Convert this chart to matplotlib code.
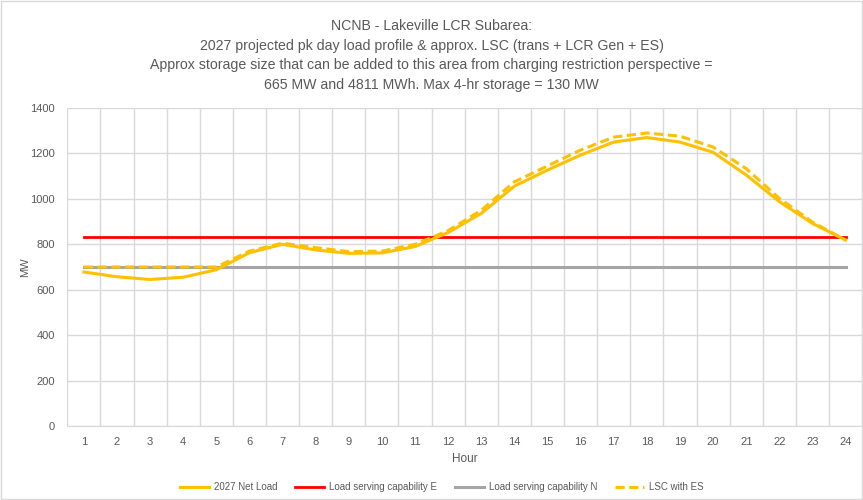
import matplotlib
matplotlib.use("Agg")
import matplotlib.pyplot as plt
from matplotlib.patches import Rectangle

plt.rcParams['font.family'] = ['Liberation Sans Narrow', 'Liberation Sans', 'DejaVu Sans']

hours = list(range(1, 25))
net_load = [678, 657, 645, 655, 688, 763, 800, 775, 760, 762, 790, 852,
            936, 1056, 1127, 1193, 1250, 1270, 1250, 1205, 1105, 988, 892, 819]
lsc_e = [834] * 24
lsc_n = [700] * 24
lsc_es = [700, 700, 700, 700, 700, 770, 805, 785, 768, 770, 800, 860,
          950, 1075, 1145, 1215, 1272, 1290, 1276, 1228, 1133, 1002, 898, 818]

title = ("NCNB - Lakeville LCR Subarea:\n"
         "2027 projected pk day load profile & approx. LSC (trans + LCR Gen + ES)\n"
         "Approx storage size that can be added to this area from charging restriction perspective =\n"
         "665 MW and 4811 MWh. Max 4-hr storage = 130 MW")

fig = plt.figure(figsize=(8.63, 5.0), dpi=100)
ax = fig.add_axes([0.078, 0.148, 0.921, 0.636])

txt = '#595959'
grid = '#d9d9d9'
ax.plot(hours, net_load, color='#FFC000', lw=2.2, label='2027 Net Load', zorder=4)
ax.plot(hours, lsc_e, color='#FF0000', lw=2.0, label='Load serving capability E', zorder=3)
ax.plot(hours, lsc_n, color='#A5A5A5', lw=2.2, label='Load serving capability N', zorder=2)
ax.plot(hours, lsc_es, color='#FFC000', lw=2.2, ls=(0, (3, 1.5)), label='LSC with ES', zorder=5)

ax.set_xlim(0.5, 24.5)
ax.set_ylim(0, 1400)
ax.set_yticks(range(0, 1401, 200))
ax.set_xticks(hours)
ax.set_xticks([h + 0.5 for h in range(0, 25)], minor=True)
ax.grid(False)
ax.yaxis.grid(True, color=grid, lw=1)
ax.xaxis.grid(True, which='minor', color=grid, lw=1)
for s in ax.spines.values():
    s.set_visible(False)
ax.spines['bottom'].set_visible(True)
ax.spines['bottom'].set_color(grid)
ax.tick_params(axis='both', which='both', length=0, labelsize=8, colors=txt, pad=8)
ax.tick_params(axis='y', pad=9)
ax.set_xlabel('Hour', fontsize=8.5, color=txt)
ax.xaxis.set_label_coords(0.5, -0.085)
ax.set_ylabel('MW', fontsize=8, color=txt)
ax.yaxis.set_label_coords(-0.047, 0.5)

fig.text(0.5, 0.889, title, ha='center', va='center', fontsize=10.2, color=txt, linespacing=1.53)

fig.legend(loc='center', bbox_to_anchor=(0.512, 0.026), ncol=4, frameon=False,
           fontsize=7, labelcolor=txt, handlelength=3.0, columnspacing=1.8, handletextpad=0.5)

fig.patches.append(Rectangle((0.001, 0.002), 0.998, 0.996, transform=fig.transFigure,
                             fill=False, edgecolor='#d9d9d9', lw=1))
fig.savefig('out.png', dpi=100)
